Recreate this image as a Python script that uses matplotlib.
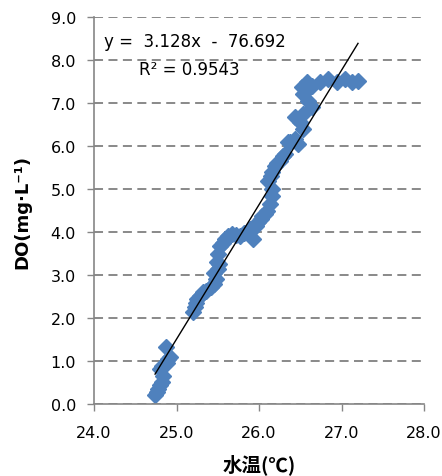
import matplotlib
matplotlib.use("Agg")
import matplotlib.pyplot as plt
import numpy as np

# water temperature (deg C) and dissolved oxygen (mg/L)
temp = [24.74, 24.76, 24.78, 24.80, 24.82, 24.84, 24.80, 24.83, 24.88, 24.90, 24.92, 24.87,
        25.20, 25.22, 25.24, 25.25, 25.28, 25.32, 25.36, 25.42, 25.46, 25.48, 25.45, 25.50, 25.52,
        25.49, 25.50, 25.53, 25.56, 25.59, 25.62, 25.67, 25.72, 25.77, 25.82, 25.89, 25.93,
        25.96, 25.99, 26.02, 26.04, 26.07, 26.10, 26.13, 26.16, 26.16, 26.11, 26.14, 26.16,
        26.19, 26.22, 26.25, 26.29, 26.32, 26.35, 26.38, 26.44, 26.47, 26.50, 26.53, 26.44,
        26.53, 26.59, 26.64, 26.53, 26.52, 26.58, 26.64, 26.74, 26.84, 26.95, 27.04, 27.13, 27.20]
do = [0.21, 0.28, 0.35, 0.45, 0.51, 0.65, 0.81, 0.88, 0.95, 1.05, 1.10, 1.33,
      2.15, 2.25, 2.35, 2.45, 2.52, 2.60, 2.62, 2.72, 2.80, 2.90, 3.05, 3.15, 3.25,
      3.30, 3.49, 3.68, 3.75, 3.84, 3.90, 3.95, 3.93, 3.91, 3.98, 4.07, 3.84,
      4.15, 4.23, 4.30, 4.37, 4.42, 4.49, 4.65, 4.84, 5.00, 5.19, 5.30, 5.40,
      5.53, 5.60, 5.65, 5.77, 5.81, 6.09, 6.09, 6.16, 6.05, 6.56, 6.40, 6.67,
      6.74, 7.05, 6.91, 7.21, 7.37, 7.49, 7.40, 7.49, 7.56, 7.49, 7.56, 7.49, 7.51]

slope = 3.128
intercept = -76.692

x_ticks = [24.0, 25.0, 26.0, 27.0, 28.0]
y_ticks = [0.0, 1.0, 2.0, 3.0, 4.0, 5.0, 6.0, 7.0, 8.0, 9.0]

fig = plt.figure(figsize=(4.42, 4.77), dpi=100)
ax = fig.add_axes([0.2127, 0.151, 0.7466, 0.811])

ax.plot(temp, do, linestyle='none', marker='D', markersize=8, color='#4F81BD',
        markeredgecolor='#4F81BD')
xs = np.array([min(temp), max(temp)])
ax.plot(xs, slope * xs + intercept, color='black', linewidth=1)

ax.set_xlim(24, 28)
ax.set_ylim(0, 9)
ax.set_xticks(x_ticks)
ax.set_yticks(y_ticks)
ax.set_xticklabels([f"{v:.1f}" for v in x_ticks])
ax.set_yticklabels([f"{v:.1f}" for v in y_ticks])
ax.tick_params(direction='out', length=5, width=1, color='#868686', labelsize=11.5,
               labelcolor='black')
ax.tick_params(axis='x', pad=10)
ax.tick_params(axis='y', pad=8)

ax.yaxis.grid(True, linestyle=(0, (5, 3)), color='#808080', linewidth=1.3)
ax.set_axisbelow(True)
for s in ['top', 'right']:
    ax.spines[s].set_visible(False)
for s in ['left', 'bottom']:
    ax.spines[s].set_color('#868686')
    ax.spines[s].set_linewidth(1.2)

ax.set_xlabel('水温(℃)', fontsize=14, fontweight='bold',
              family=['Noto Sans CJK SC', 'DejaVu Sans'], labelpad=10)
ax.set_ylabel('DO(mg·L⁻¹)', fontsize=13, fontweight='bold', labelpad=14)

ax.text(24.12, 8.44, 'y =  3.128x  -  76.692', fontsize=12, va='center')
ax.text(24.55, 7.79, 'R² = 0.9543', fontsize=12, va='center')

fig.savefig('out.png', dpi=100)
